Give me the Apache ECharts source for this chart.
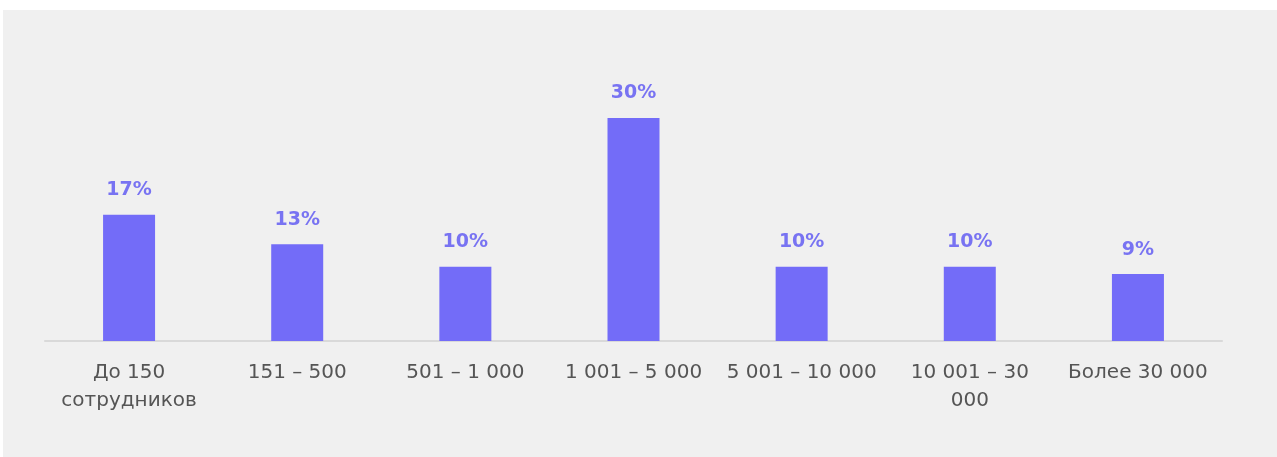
<!DOCTYPE html>
<html><head><meta charset="utf-8">
<script src="https://cdn.jsdelivr.net/npm/echarts@6/dist/echarts.min.js"></script>
<style>html,body{margin:0;padding:0;background:#fff}#c{width:1277px;height:457px}</style>
</head><body><div id="c"></div>
<script>
const categories = ['До 150\nсотрудников', '151 – 500', '501 – 1 000', '1 001 – 5 000', '5 001 – 10 000', '10 001 – 30\n000', 'Более 30 000'];
const values = [17, 13, 10, 30, 10, 10, 9];

const chart = echarts.init(document.getElementById('c'));
chart.setOption({
  backgroundColor: '#ffffff',
  graphic: [{type: 'rect', left: 3, top: 10, shape: {width: 1274, height: 447}, style: {fill: '#f0f0f0'}, z: -10}],
  grid: {left: 45, right: 55, top: 118, bottom: 116},
  xAxis: {
    type: 'category', data: categories,
    axisLine: {lineStyle: {color: '#d9d9d9', width: 2}},
    axisTick: {show: false},
    axisLabel: {color: '#555555', fontSize: 20, fontFamily: 'DejaVu Sans', lineHeight: 28, margin: 18, interval: 0}
  },
  yAxis: {type: 'value', min: 0, max: 30, show: false, splitLine: {show: false}},
  series: [{
    type: 'bar', data: values, barWidth: 52,
    itemStyle: {color: '#736cf8'},
    label: {show: true, position: 'top', distance: 15, formatter: '{c}%', color: '#7873f2', fontSize: 19, fontWeight: 'bold', fontFamily: 'DejaVu Sans'}
  }]
});
</script></body></html>
